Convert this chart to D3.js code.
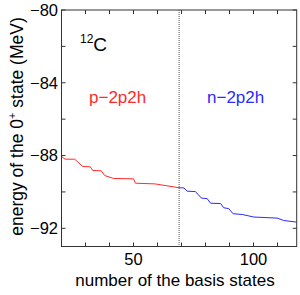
<!DOCTYPE html>
<html><head><meta charset="utf-8">
<script src="https://cdn.jsdelivr.net/npm/d3@7"></script>
<style>body{margin:0;background:#fff}svg{display:block}text{font-family:"Liberation Sans",Arial,Helvetica,sans-serif}</style>
</head><body>
<svg id="c" width="300" height="295"></svg>
<script>
const redX = [20, 21.5, 25.5, 28.8, 32, 33, 36.6, 38, 41.7, 50, 50.8, 59, 69];
const redY = [-88.05, -88.2, -88.2, -88.6, -88.62, -88.82, -88.84, -89.1, -89.26, -89.28, -89.52, -89.56, -89.77];
const blueX = [69, 71, 72.4, 75.8, 78.3, 80.7, 82.1, 86.3, 87.6, 89.7, 91.5, 95.3, 100.1, 109.9, 112.6, 118];
const blueY = [-89.77, -89.78, -89.96, -89.98, -90.34, -90.37, -90.62, -90.64, -90.87, -90.92, -91.2, -91.24, -91.38, -91.44, -91.57, -91.66];
const xTicks = [20, 30, 40, 50, 60, 70, 80, 90, 100, 110];
const xTickLabels = [50, 100];
const yTicks = [-80, -82, -84, -86, -88, -90, -92];
const yTickLabels = [-80, -84, -88, -92];
const divider = 69;
const labels = {left: "p\u22122p2h", right: "n\u22122p2h", nucleus: "C", mass: "12"};

const svg = d3.select("#c");
const L = 61.5, R = 296.7, T = 10, B = 246.5;
const x = d3.scaleLinear().domain([20, 118]).range([L, R]);
const y = d3.scaleLinear().domain([-93, -80]).range([B, T]);
const tl = 4;
const axisColor = "#333";

const line = d3.line().x(d => x(d[0])).y(d => y(d[1]));
svg.append("path").datum(redX.map((v, i) => [v, redY[i]]))
  .attr("d", line).attr("fill", "none").attr("stroke", "#ff2a2a").attr("stroke-width", 1);
svg.append("path").datum(blueX.map((v, i) => [v, blueY[i]]))
  .attr("d", line).attr("fill", "none").attr("stroke", "#2a2aff").attr("stroke-width", 1);

svg.append("line").attr("x1", x(divider)).attr("x2", x(divider)).attr("y1", T).attr("y2", B)
  .attr("stroke", "#555").attr("stroke-width", 1).attr("stroke-dasharray", "1,1");

const g = svg.append("g").attr("stroke", axisColor).attr("stroke-width", 1).attr("fill", "none");
g.append("rect").attr("x", L).attr("y", T).attr("width", R - L).attr("height", B - T);
xTicks.forEach(t => {
  g.append("line").attr("x1", x(t)).attr("x2", x(t)).attr("y1", B).attr("y2", B - tl);
  g.append("line").attr("x1", x(t)).attr("x2", x(t)).attr("y1", T).attr("y2", T + tl);
});
yTicks.forEach(t => {
  g.append("line").attr("x1", L).attr("x2", L + tl).attr("y1", y(t)).attr("y2", y(t));
  g.append("line").attr("x1", R).attr("x2", R - tl).attr("y1", y(t)).attr("y2", y(t));
});
const fmt = d3.format("d");
xTickLabels.forEach(t => {
  svg.append("text").attr("x", x(t)).attr("y", 265).attr("text-anchor", "middle")
    .attr("font-size", 16.5).text(fmt(t));
});
yTickLabels.forEach(t => {
  svg.append("text").attr("x", 58).attr("y", y(t)).attr("dy", "0.36em").attr("text-anchor", "end")
    .attr("font-size", 16.5).text(fmt(t));
});

svg.append("text").attr("x", 175).attr("y", 286).attr("text-anchor", "middle")
  .attr("font-size", 17).text("number of the basis states");
const yl = svg.append("text").attr("transform", "translate(23,126.5) rotate(-90)")
  .attr("text-anchor", "middle").attr("font-size", 17.5);
yl.append("tspan").text("energy of the 0");
yl.append("tspan").attr("font-size", 11).attr("dy", -7).text("+");
yl.append("tspan").attr("dy", 7).text(" state (MeV)");

const nt = svg.append("text").attr("x", 80).attr("y", 50.5).attr("font-size", 19);
nt.append("tspan").attr("font-size", 12).attr("dy", -7.5).text(labels.mass);
nt.append("tspan").attr("dy", 7.5).text(labels.nucleus);

svg.append("text").attr("x", 89).attr("y", 103).attr("font-size", 17).attr("fill", "#ff2a2a").text(labels.left);
svg.append("text").attr("x", 207).attr("y", 103).attr("font-size", 17).attr("fill", "#2a2aff").text(labels.right);
</script>
</body></html>
